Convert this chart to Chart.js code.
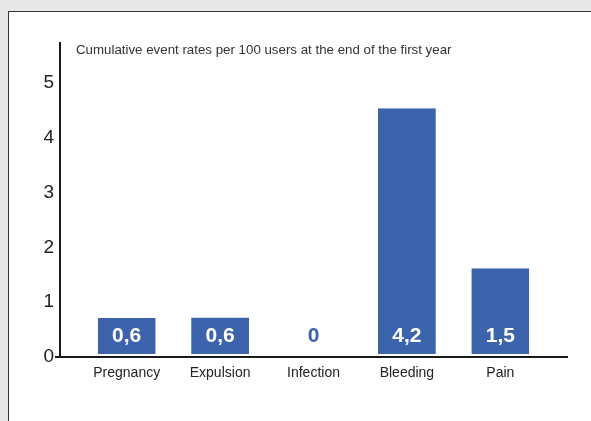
<!DOCTYPE html>
<html>
<head>
<meta charset="utf-8">
<script src="https://cdn.jsdelivr.net/npm/chart.js@4/dist/chart.umd.min.js"></script>
<style>
  html, body { margin: 0; padding: 0; background: #e8e8e8; width: 591px; height: 421px; overflow: hidden; }
  #panel { position: absolute; left: 8px; top: 11px; width: 600px; height: 430px; background: #fff; border: 1.5px solid #333; box-sizing: border-box; }
  #wrap { position: absolute; left: 0; top: 0; width: 591px; height: 421px; }
</style>
</head>
<body>
<div id="panel"></div>
<div id="wrap"><canvas id="chart" width="591" height="421"></canvas></div>
<script>
const TITLE = "Cumulative event rates per 100 users at the end of the first year";
const CATEGORIES = ["Pregnancy", "Expulsion", "Infection", "Bleeding", "Pain"];
// bar heights as drawn in the picture
const BAR_HEIGHTS = [0.71, 0.72, 0, 4.54, 1.62];
// printed values
const VALUE_LABELS = ["0,6", "0,6", "0", "4,2", "1,5"];
const Y_TICKS = [0, 1, 2, 3, 4, 5];

const BAR_COLOR = "#3c64ad";
const FONT = "'Liberation Sans', Arial, Helvetica, sans-serif";

// draws axis lines, the title and the values inside the bars
const decorations = {
  id: "decorations",
  afterDatasetsDraw(chart) {
    const { ctx, chartArea, scales } = chart;
    const x = scales.x;
    const y = scales.y;
    const zeroY = y.getPixelForValue(0);

    ctx.save();
    ctx.strokeStyle = "#1a1a1a";
    ctx.lineWidth = 2;
    ctx.beginPath();
    ctx.moveTo(chartArea.left - 20, chartArea.top);
    ctx.lineTo(chartArea.left - 20, zeroY);
    ctx.moveTo(chartArea.left - 25, zeroY);
    ctx.lineTo(chartArea.right + 21, zeroY);
    ctx.stroke();

    ctx.fillStyle = "#333";
    ctx.font = "13.3px " + FONT;
    ctx.textAlign = "left";
    ctx.textBaseline = "middle";
    ctx.fillText(TITLE, chartArea.left - 4, chartArea.top + 8);

    ctx.font = "bold 21px " + FONT;
    ctx.textAlign = "center";
    VALUE_LABELS.forEach((label, i) => {
      ctx.fillStyle = BAR_HEIGHTS[i] > 0 ? "#fff" : BAR_COLOR;
      ctx.fillText(label, x.getPixelForValue(i), zeroY - 21);
    });
    ctx.restore();
  },
};

new Chart(document.getElementById("chart"), {
  type: "bar",
  data: {
    labels: CATEGORIES,
    datasets: [
      {
        data: BAR_HEIGHTS,
        backgroundColor: BAR_COLOR,
        borderColor: "#fff",
        borderWidth: { top: 0, left: 0, right: 0, bottom: 3 },
        borderSkipped: false,
        barPercentage: 0.62,
        categoryPercentage: 1,
      },
    ],
  },
  options: {
    responsive: false,
    animation: false,
    events: [],
    layout: {
      padding: { left: 0, right: 44, top: 42, bottom: 0 },
    },
    plugins: {
      legend: { display: false },
      tooltip: { enabled: false },
      title: { display: false },
    },
    scales: {
      x: {
        grid: { display: false, drawTicks: false },
        border: { display: false },
        ticks: {
          color: "#222",
          padding: 8,
          font: { family: FONT, size: 14 },
        },
        afterFit: (scale) => {
          scale.height = 64;
        },
      },
      y: {
        min: 0,
        max: 5.75,
        grid: { display: false, drawTicks: false },
        border: { display: false },
        afterBuildTicks: (scale) => {
          scale.ticks = Y_TICKS.map((v) => ({ value: v }));
        },
        ticks: {
          color: "#222",
          padding: 26,
          font: { family: FONT, size: 19 },
        },
        afterFit: (scale) => {
          scale.width = 80;
        },
      },
    },
  },
  plugins: [decorations],
});
</script>
</body>
</html>
